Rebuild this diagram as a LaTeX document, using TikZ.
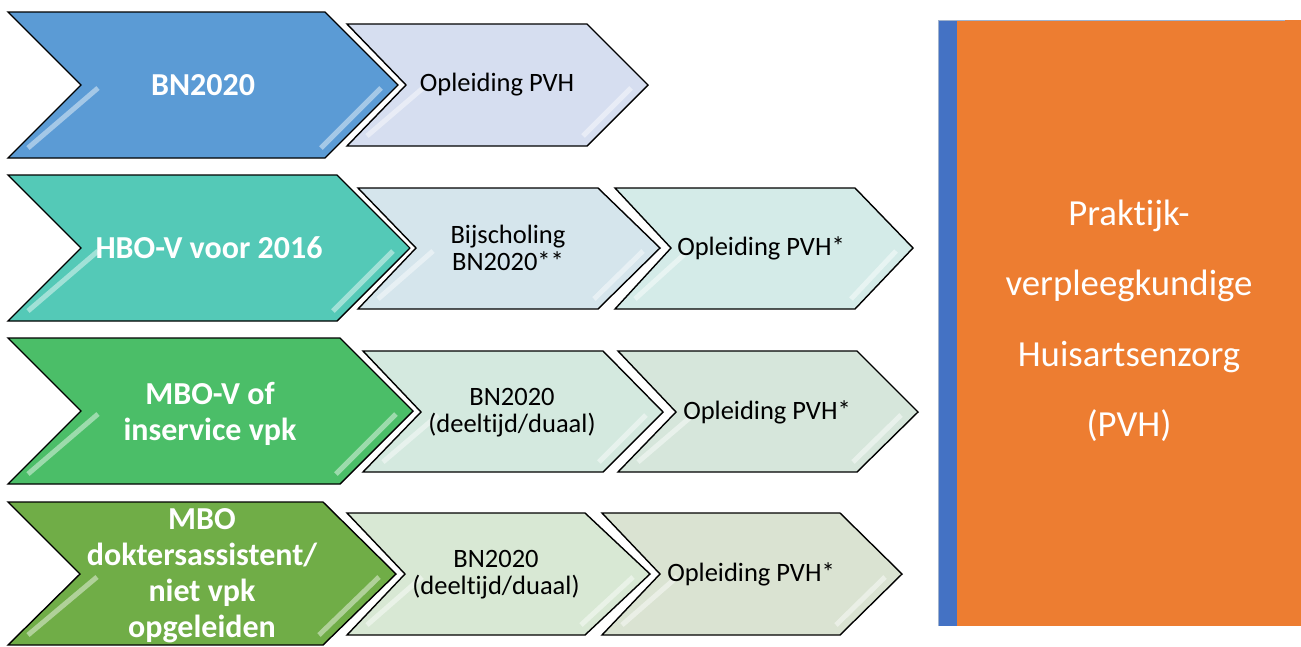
\documentclass[tikz,border=0pt]{standalone}
\usepackage{fontspec}
\setmainfont{Carlito}[Ligatures=NoCommon]
\definecolor{bigA}{RGB}{91,155,213}
\definecolor{bigB}{RGB}{84,201,183}
\definecolor{bigC}{RGB}{75,190,104}
\definecolor{bigD}{RGB}{112,173,71}
\definecolor{smA}{RGB}{214,222,240}
\definecolor{smBa}{RGB}{213,229,236}
\definecolor{smBb}{RGB}{212,235,232}
\definecolor{smCa}{RGB}{212,233,223}
\definecolor{smCb}{RGB}{214,230,219}
\definecolor{smDa}{RGB}{216,232,212}
\definecolor{smDb}{RGB}{218,227,210}
\definecolor{sideblue}{RGB}{68,114,196}
\definecolor{sideorange}{RGB}{237,125,49}
\definecolor{sideline}{RGB}{160,178,205}
\tikzset{
  chevstyle/.style={draw=black, line width=1.4pt, line join=miter,
    preaction={draw=white, line width=7pt}},
  hl/.style={draw=white, line width=5pt, opacity=0.45},
  bigtxt/.style={text=white, font=\bfseries\fontsize{32}{36}\selectfont, align=center, inner sep=0pt},
  smalltxt/.style={text=black, font=\fontsize{26.5}{27}\selectfont, align=center, inner sep=0pt},
  sidetxt/.style={text=white, font=\fontsize{36.75}{70.5}\selectfont, align=center, inner sep=0pt}
}
% #1 left, #2 top-right x, #3 tip x, #4 top y, #5 mid y, #6 bottom y, #7 notch x, #8 fill
\newcommand\chevshape[8]{%
  \path[chevstyle, fill=#8] (#1,#4) -- (#2,#4) -- (#3,#5) -- (#2,#6) -- (#1,#6) -- (#7,#5) -- cycle;
  \draw[hl] ({#7+17},{#5+3}) -- ({#1+20},{#6-10});
  \draw[hl] ({#3-17},{#5+3}) -- ({#2-4},{#6-10});
}
\begin{document}
\begin{tikzpicture}[x=1pt,y=-1pt]
\useasboundingbox[fill=white] (0,0) rectangle (1301,646);
% row 1
\chevshape{8}{325}{398}{12}{85}{158}{81}{bigA}
\chevshape{347}{587}{648}{24}{85}{146}{406}{smA}
\node[bigtxt] (r1a) at (203,85) {BN2020};
\node[smalltxt] (r1b) at (497,85) {Opleiding PVH};
% row 2
\chevshape{8}{337}{410}{175}{248}{321}{81}{bigB}
\chevshape{358}{598}{660}{188}{248}{309}{416}{smBa}
\chevshape{615}{855}{913}{188}{248}{309}{671}{smBb}
\node[bigtxt] (r2a) at (209,248) {HBO-V voor 2016};
\node[smalltxt] (r2b) at (508,248) {Bijscholing\\BN2020**};
\node[smalltxt] (r2c) at (761,248) {Opleiding PVH*};
% row 3
\chevshape{8}{340}{413}{338}{411}{484}{81}{bigC}
\chevshape{363}{603}{663}{351}{412}{472}{421}{smCa}
\chevshape{618}{857}{918}{351}{412}{472}{676}{smCb}
\node[bigtxt] (r3a) at (210,414) {MBO-V of\\inservice vpk};
\node[smalltxt] (r3b) at (512,413) {BN2020\\(deeltijd/duaal)};
\node[smalltxt] (r3c) at (767,412) {Opleiding PVH*};
% row 4
\chevshape{8}{323}{396}{502}{574}{645}{80}{bigD}
\chevshape{347}{585}{650}{513}{574}{635}{405}{smDa}
\chevshape{602}{840}{902}{513}{574}{635}{660}{smDb}
\node[bigtxt] (r4a) at (202,576) {MBO\\doktersassistent/\\niet vpk\\opgeleiden};
\node[smalltxt] (r4b) at (496,575) {BN2020\\(deeltijd/duaal)};
\node[smalltxt] (r4c) at (751,574) {Opleiding PVH*};
% right box
\fill[sideorange] (957,20) rectangle (1301,626);
\fill[sideblue] (938,20) rectangle (957,626);
\draw[sideline, line width=1pt] (938,626) -- (938,20) -- (1285,20);
\node[sidetxt] (side) at (1129,321) {Praktijk-\\verpleegkundige\\Huisartsenzorg\\(PVH)};
\end{tikzpicture}
\end{document}
